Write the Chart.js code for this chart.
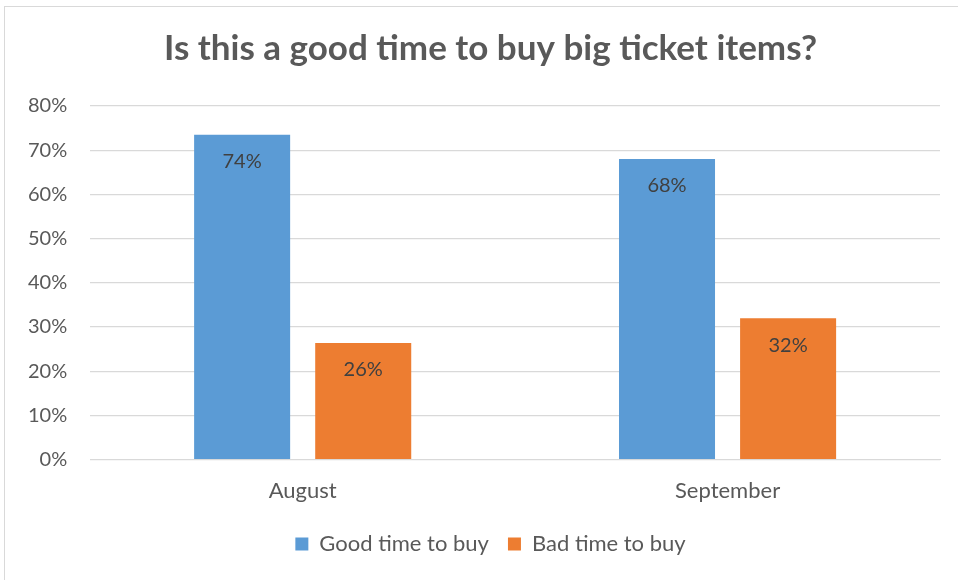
<!DOCTYPE html>
<html>
<head>
<meta charset="utf-8">
<script src="https://cdn.jsdelivr.net/npm/chart.js@4/dist/chart.umd.min.js"></script>
<style>
  body { margin: 0; background: #fff; overflow: hidden; }
  #box { position: absolute; left: 4px; top: 6px; width: 980px; height: 600px; border: 1px solid #d9d9d9; box-sizing: border-box; }
  #wrap { position: absolute; left: 4px; top: 0; width: 972px; height: 580px; }
</style>
</head>
<body>
<div id="box"></div>
<div id="wrap"><canvas id="myChart"></canvas></div>
<script>
const months = ['August', 'September'];
const goodTime = [73.5, 68];
const badTime = [26.4, 32];
const goodLabels = ['74%', '68%'];
const badLabels = ['26%', '32%'];
const yTicks = [0, 10, 20, 30, 40, 50, 60, 70, 80];

const FONT = 'Lato, "Open Sans", sans-serif';

// value labels just inside the top of each bar
const barLabels = {
    id: 'barLabels',
    afterDatasetsDraw(chart) {
        const c = chart.ctx;
        const texts = [goodLabels, badLabels];
        c.save();
        c.font = '20px ' + FONT;
        c.fillStyle = '#404040';
        c.textAlign = 'center';
        c.textBaseline = 'middle';
        chart.data.datasets.forEach((ds, i) => {
            chart.getDatasetMeta(i).data.forEach((bar, j) => {
                c.fillText(texts[i][j], bar.x, bar.y + 27);
            });
        });
        c.restore();
    }
};

// title and legend sit centred on the whole frame, which runs past the right edge
const centreBlocks = {
    id: 'centreBlocks',
    afterLayout(chart) {
        [chart.titleBlock, chart.legend].forEach(b => {
            b.left += 18;
            b.right += 18;
        });
    }
};

const ctx = document.getElementById('myChart').getContext('2d');
const myChart = new Chart(ctx, {
    type: 'bar',
    data: {
        labels: months,
        datasets: [{
            label: 'Good time to buy',
            data: goodTime,
            backgroundColor: '#5b9bd5',
            categoryPercentage: 0.57,
            barPercentage: 0.793
        }, {
            label: 'Bad time to buy',
            data: badTime,
            backgroundColor: '#ed7d31',
            categoryPercentage: 0.57,
            barPercentage: 0.793
        }]
    },
    options: {
        responsive: true,
        maintainAspectRatio: false,
        animation: false,
        layout: { padding: { left: 1, right: 36, top: 8, bottom: 15 } },
        plugins: {
            title: {
                display: true,
                text: 'Is this a good time to buy big ticket items?',
                color: '#595959',
                font: { family: FONT, size: 35, weight: 'bold' },
                padding: { top: 20, bottom: 36 }
            },
            legend: {
                position: 'bottom',
                labels: {
                    color: '#595959',
                    font: { family: FONT, size: 22 },
                    boxWidth: 13,
                    boxHeight: 13,
                    padding: 19
                }
            },
            tooltip: { enabled: false }
        },
        scales: {
            x: {
                grid: { display: false },
                border: { color: '#d9d9d9' },
                ticks: { color: '#595959', font: { family: FONT, size: 22 }, padding: 10 }
            },
            y: {
                min: 0,
                max: 80,
                afterBuildTicks(axis) { axis.ticks = yTicks.map(v => ({ value: v })); },
                grid: { color: '#d9d9d9', lineWidth: 1.3, drawTicks: false },
                border: { display: false },
                ticks: {
                    color: '#595959',
                    font: { family: FONT, size: 20 },
                    padding: 23,
                    callback: v => v + '%'
                }
            }
        }
    },
    plugins: [barLabels, centreBlocks]
});
</script>
</body>
</html>
